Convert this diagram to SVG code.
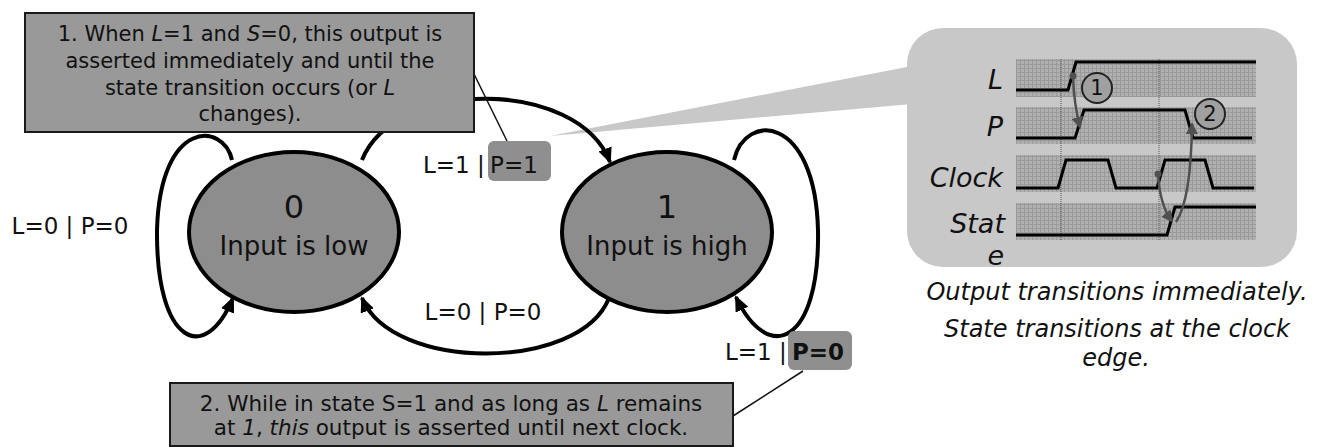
<svg xmlns="http://www.w3.org/2000/svg" width="1323" height="447" viewBox="0 0 1323 447">
<style>
text{font-family:"DejaVu Sans","Liberation Sans",sans-serif;fill:#111}
.box{fill:#999;stroke:#1a1a1a;stroke-width:2}
.bt{font-size:21px;text-anchor:middle}
.bt2{font-size:21.5px;text-anchor:middle}
.st{fill:#8d8d8d;stroke:#000;stroke-width:4}
.lbl{font-size:23px}
.tag{fill:#8f8f8f}
.edge{fill:none;stroke:#000;stroke-width:4}
.sig{fill:none;stroke:#000;stroke-width:3}
.ann{fill:none;stroke:#505050;stroke-width:2.5}
.sl{font-size:27px;font-style:italic;text-anchor:end}
.cap{font-size:24px;font-style:italic;text-anchor:middle}
.it{font-style:italic}
.row{fill:url(#grid)}
.num{font-size:21px;text-anchor:middle}
</style>
<defs>
<marker id="ah" markerUnits="userSpaceOnUse" markerWidth="16" markerHeight="14" refX="14" refY="7" orient="auto">
<path d="M0,0 L16,7 L0,14 z" fill="#000"/>
</marker>
<marker id="ag" markerUnits="userSpaceOnUse" markerWidth="12" markerHeight="12" refX="10" refY="6" orient="auto">
<path d="M0,0 L12,6 L0,12 z" fill="#505050"/>
</marker>
<pattern id="grid" width="4" height="4" patternUnits="userSpaceOnUse">
<rect width="4" height="4" fill="#b0b0b0"/>
<path d="M0 0.5H4M0.5 0V4" stroke="#9a9a9a" stroke-width="1"/>
</pattern>
</defs>

<!-- zoom wedge and timing panel -->
<g id="timing">
<polygon points="550,136 912,66 912,104" fill="#c8c8c8"/>
<rect x="907" y="28" width="390" height="239" rx="36" fill="#c8c8c8"/>
<rect class="row" x="1016" y="59" width="240" height="38"/>
<rect class="row" x="1016" y="107" width="240" height="37"/>
<rect class="row" x="1016" y="155" width="240" height="37"/>
<rect class="row" x="1016" y="203" width="240" height="37"/>
<line x1="1061" y1="59" x2="1061" y2="240" stroke="#555" stroke-width="1" stroke-dasharray="1,1"/>
<line x1="1159" y1="59" x2="1159" y2="240" stroke="#555" stroke-width="1" stroke-dasharray="1,1"/>
<polyline class="sig" points="1016,90 1068,90 1076,62 1256,62"/>
<polyline class="sig" points="1016,138 1075,138 1084,110 1185,110 1193,138 1252,138"/>
<polyline class="sig" points="1016,188 1058,188 1066,160 1108,160 1116,188 1157,188 1165,160 1205,160 1213,188 1254,188"/>
<polyline class="sig" points="1016,235 1167,235 1175,207 1256,207"/>
<text class="sl" x="1003" y="89">L</text>
<text class="sl" x="1003" y="136">P</text>
<text class="sl" x="1003" y="187">Clock</text>
<text class="sl" x="1005" y="233">Stat</text>
<text class="sl" x="1004" y="265">e</text>
<circle cx="1073" cy="76" r="3.5" fill="#505050"/>
<path class="ann" d="M1073 76 Q1074 105 1080 127" marker-end="url(#ag)"/>
<circle cx="1158" cy="174" r="3.5" fill="#505050"/>
<path class="ann" d="M1158 174 Q1160 206 1172 221" marker-end="url(#ag)"/>
<path class="ann" d="M1176 222 Q1191 200 1192 124" marker-end="url(#ag)"/>
<circle cx="1097" cy="88" r="15" fill="#a0a0a0" stroke="#222" stroke-width="2"/>
<text class="num" x="1097" y="95">1</text>
<circle cx="1210" cy="114" r="15" fill="#a0a0a0" stroke="#222" stroke-width="2"/>
<text class="num" x="1210" y="121">2</text>
<text class="cap" x="1117" y="300">Output transitions immediately.</text>
<text class="cap" x="1117" y="337">State transitions at the clock</text>
<text class="cap" x="1116" y="366">edge.</text>
</g>

<!-- connectors -->
<g id="connectors">
<path class="edge" d="M362 160 C395 78 578 78 610 162" marker-end="url(#ah)"/>
<path class="edge" d="M609 298 C580 372 392 372 362 298" marker-end="url(#ah)"/>
<path class="edge" d="M232 160 C224 122 160 118 157 230 C156 345 205 365 233 298" marker-end="url(#ah)"/>
<path class="edge" d="M734 160 C745 112 815 114 818 230 C820 345 768 365 736 297" marker-end="url(#ah)"/>
<line x1="474" y1="74" x2="507" y2="141" stroke="#111" stroke-width="1.5"/>
<line x1="803" y1="371" x2="733" y2="416" stroke="#111" stroke-width="1.5"/>
</g>

<g id="state0">
<ellipse class="st" cx="294" cy="232" rx="105" ry="80"/>
<text x="294" y="218" font-size="32" text-anchor="middle">0</text>
<text x="294" y="255" font-size="26" text-anchor="middle">Input is low</text>
</g>
<g id="state1">
<ellipse class="st" cx="667" cy="232" rx="105" ry="80"/>
<text x="667" y="218" font-size="32" text-anchor="middle">1</text>
<text x="667" y="255" font-size="26" text-anchor="middle">Input is high</text>
</g>

<g id="labels">
<text class="lbl" x="423" y="173">L=1 |</text>
<rect class="tag" x="488" y="141" width="63" height="40" rx="6"/>
<text class="lbl" x="514" y="173" text-anchor="middle">P=1</text>
<text class="lbl" x="483" y="320" text-anchor="middle">L=0 | P=0</text>
<text class="lbl" x="70" y="234" text-anchor="middle">L=0 | P=0</text>
<text class="lbl" x="725" y="360">L=1 |</text>
<rect class="tag" x="788" y="331" width="64" height="39" rx="6"/>
<text class="lbl" x="818" y="360" text-anchor="middle" font-weight="bold">P=0</text>
</g>

<g id="note1">
<rect class="box" x="25" y="13" width="449" height="119"/>
<text class="bt" x="250" y="41">1. When <tspan class="it">L</tspan>=1 and <tspan class="it">S</tspan>=0, this output is</text>
<text class="bt" x="250" y="68">asserted immediately and until the</text>
<text class="bt" x="250" y="95">state transition occurs (or <tspan class="it">L</tspan></text>
<text class="bt" x="250" y="121">changes).</text>
</g>

<g id="note2">
<rect class="box" x="170" y="383" width="563" height="63"/>
<text class="bt2" x="451" y="411">2. While in state S=1 and as long as <tspan class="it">L</tspan> remains</text>
<text class="bt2" x="451" y="435">at <tspan class="it">1</tspan>, <tspan class="it">this</tspan> output is asserted until next clock.</text>
</g>
</svg>
